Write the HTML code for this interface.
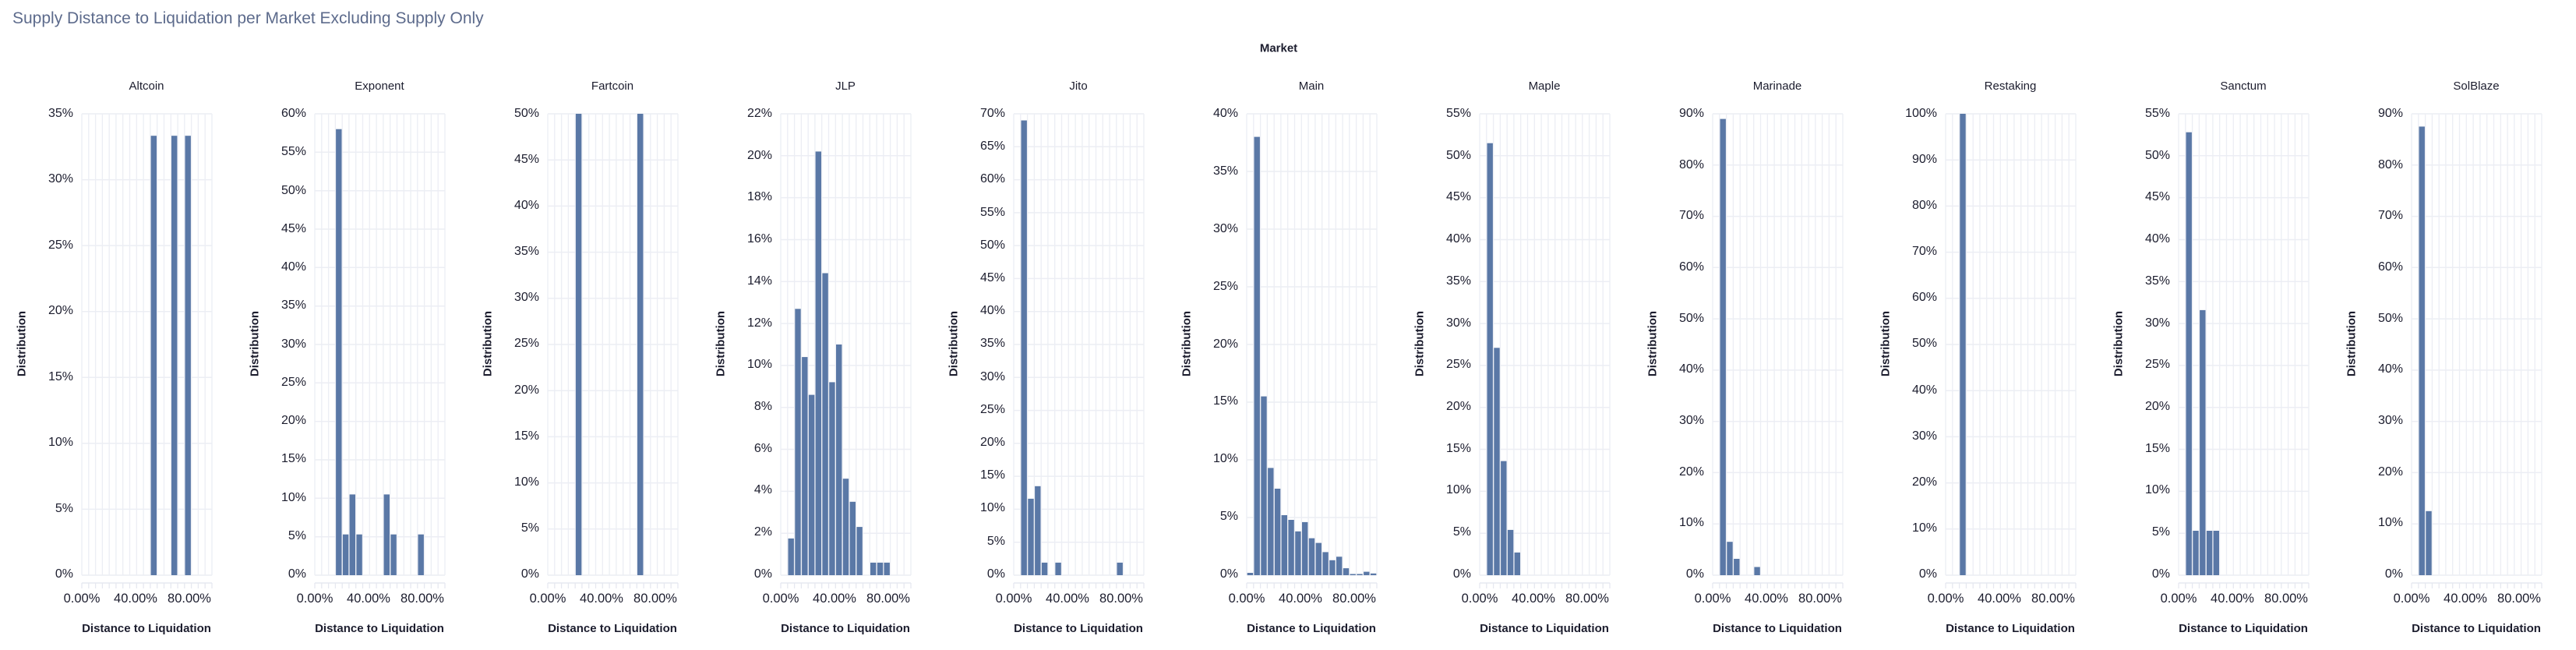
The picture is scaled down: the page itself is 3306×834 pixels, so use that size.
<!DOCTYPE html>
<html><head><meta charset="utf-8"><style>
body{margin:0;width:3306px;height:834px;background:#fff;position:relative;overflow:hidden;font-family:"Liberation Sans",sans-serif;color:#1c1d2e}
.title{position:absolute;left:16px;top:12px;font-size:21px;color:#5d6b8c;white-space:nowrap}
.mk{position:absolute;left:1641px;top:62px;transform:translate(-50%,-50%);font-weight:bold;font-size:15px}
.p{position:absolute;top:0;width:299px;height:834px}
.t{position:absolute;left:105px;width:166px;top:102px;text-align:center;font-size:15px;line-height:18px}
.yl{position:absolute;right:205px;top:137px;height:609px;display:flex;flex-direction:column;justify-content:space-between;text-align:right;font-size:16px;line-height:18px}
.yt{position:absolute;left:28px;top:441px;transform:translate(-50%,-50%) rotate(-90deg);font-weight:bold;font-size:15px;white-space:nowrap}
svg.pl{position:absolute;left:0;top:0}
.xt span{position:absolute;top:758px;transform:translateX(-50%);font-size:16.5px;line-height:20px;white-space:nowrap}
.xl{position:absolute;left:105px;width:166px;top:798px;text-align:center;font-weight:bold;font-size:15px;white-space:nowrap;line-height:18px}
</style></head><body>
<div class="title">Supply Distance to Liquidation per Market Excluding Supply Only</div>
<div class="mk">Market</div>

<div class="p" style="left:0px"><div class="t">Altcoin</div><div class="yl"><span>35%</span><span>30%</span><span>25%</span><span>20%</span><span>15%</span><span>10%</span><span>5%</span><span>0%</span></div><div class="yt">Distribution</div><svg class="pl" width="299" height="834"></svg><div class="xt"><span style="left:105px">0.00%</span><span style="left:174px">40.00%</span><span style="left:243px">80.00%</span></div><div class="xl">Distance to Liquidation</div></div>

<div class="p" style="left:299px"><div class="t">Exponent</div><div class="yl"><span>60%</span><span>55%</span><span>50%</span><span>45%</span><span>40%</span><span>35%</span><span>30%</span><span>25%</span><span>20%</span><span>15%</span><span>10%</span><span>5%</span><span>0%</span></div><div class="yt">Distribution</div><svg class="pl" width="299" height="834"></svg><div class="xt"><span style="left:105px">0.00%</span><span style="left:174px">40.00%</span><span style="left:243px">80.00%</span></div><div class="xl">Distance to Liquidation</div></div>

<div class="p" style="left:598px"><div class="t">Fartcoin</div><div class="yl"><span>50%</span><span>45%</span><span>40%</span><span>35%</span><span>30%</span><span>25%</span><span>20%</span><span>15%</span><span>10%</span><span>5%</span><span>0%</span></div><div class="yt">Distribution</div><svg class="pl" width="299" height="834"></svg><div class="xt"><span style="left:105px">0.00%</span><span style="left:174px">40.00%</span><span style="left:243px">80.00%</span></div><div class="xl">Distance to Liquidation</div></div>

<div class="p" style="left:897px"><div class="t">JLP</div><div class="yl"><span>22%</span><span>20%</span><span>18%</span><span>16%</span><span>14%</span><span>12%</span><span>10%</span><span>8%</span><span>6%</span><span>4%</span><span>2%</span><span>0%</span></div><div class="yt">Distribution</div><svg class="pl" width="299" height="834"></svg><div class="xt"><span style="left:105px">0.00%</span><span style="left:174px">40.00%</span><span style="left:243px">80.00%</span></div><div class="xl">Distance to Liquidation</div></div>

<div class="p" style="left:1196px"><div class="t">Jito</div><div class="yl"><span>70%</span><span>65%</span><span>60%</span><span>55%</span><span>50%</span><span>45%</span><span>40%</span><span>35%</span><span>30%</span><span>25%</span><span>20%</span><span>15%</span><span>10%</span><span>5%</span><span>0%</span></div><div class="yt">Distribution</div><svg class="pl" width="299" height="834"></svg><div class="xt"><span style="left:105px">0.00%</span><span style="left:174px">40.00%</span><span style="left:243px">80.00%</span></div><div class="xl">Distance to Liquidation</div></div>

<div class="p" style="left:1495px"><div class="t">Main</div><div class="yl"><span>40%</span><span>35%</span><span>30%</span><span>25%</span><span>20%</span><span>15%</span><span>10%</span><span>5%</span><span>0%</span></div><div class="yt">Distribution</div><svg class="pl" width="299" height="834"></svg><div class="xt"><span style="left:105px">0.00%</span><span style="left:174px">40.00%</span><span style="left:243px">80.00%</span></div><div class="xl">Distance to Liquidation</div></div>

<div class="p" style="left:1794px"><div class="t">Maple</div><div class="yl"><span>55%</span><span>50%</span><span>45%</span><span>40%</span><span>35%</span><span>30%</span><span>25%</span><span>20%</span><span>15%</span><span>10%</span><span>5%</span><span>0%</span></div><div class="yt">Distribution</div><svg class="pl" width="299" height="834"></svg><div class="xt"><span style="left:105px">0.00%</span><span style="left:174px">40.00%</span><span style="left:243px">80.00%</span></div><div class="xl">Distance to Liquidation</div></div>

<div class="p" style="left:2093px"><div class="t">Marinade</div><div class="yl"><span>90%</span><span>80%</span><span>70%</span><span>60%</span><span>50%</span><span>40%</span><span>30%</span><span>20%</span><span>10%</span><span>0%</span></div><div class="yt">Distribution</div><svg class="pl" width="299" height="834"></svg><div class="xt"><span style="left:105px">0.00%</span><span style="left:174px">40.00%</span><span style="left:243px">80.00%</span></div><div class="xl">Distance to Liquidation</div></div>

<div class="p" style="left:2392px"><div class="t">Restaking</div><div class="yl"><span>100%</span><span>90%</span><span>80%</span><span>70%</span><span>60%</span><span>50%</span><span>40%</span><span>30%</span><span>20%</span><span>10%</span><span>0%</span></div><div class="yt">Distribution</div><svg class="pl" width="299" height="834"></svg><div class="xt"><span style="left:105px">0.00%</span><span style="left:174px">40.00%</span><span style="left:243px">80.00%</span></div><div class="xl">Distance to Liquidation</div></div>

<div class="p" style="left:2691px"><div class="t">Sanctum</div><div class="yl"><span>55%</span><span>50%</span><span>45%</span><span>40%</span><span>35%</span><span>30%</span><span>25%</span><span>20%</span><span>15%</span><span>10%</span><span>5%</span><span>0%</span></div><div class="yt">Distribution</div><svg class="pl" width="299" height="834"></svg><div class="xt"><span style="left:105px">0.00%</span><span style="left:174px">40.00%</span><span style="left:243px">80.00%</span></div><div class="xl">Distance to Liquidation</div></div>

<div class="p" style="left:2990px"><div class="t">SolBlaze</div><div class="yl"><span>90%</span><span>80%</span><span>70%</span><span>60%</span><span>50%</span><span>40%</span><span>30%</span><span>20%</span><span>10%</span><span>0%</span></div><div class="yt">Distribution</div><svg class="pl" width="299" height="834"></svg><div class="xt"><span style="left:105px">0.00%</span><span style="left:174px">40.00%</span><span style="left:243px">80.00%</span></div><div class="xl">Distance to Liquidation</div></div>

<script>
var D=[
[35,5,{10:33.33,13:33.33,15:33.33}],
[60,5,{3:58,4:5.3,5:10.5,6:5.3,10:10.5,11:5.3,15:5.3}],
[50,5,{4:50,13:50}],
[22,2,{1:1.75,2:12.7,3:10.4,4:8.6,5:20.2,6:14.4,7:9.2,8:11,9:4.6,10:3.5,11:2.3,13:0.6,14:0.6,15:0.6}],
[70,5,{1:69,2:11.6,3:13.5,4:1.9,6:1.9,15:1.9}],
[40,5,{0:0.2,1:38,2:15.5,3:9.3,4:7.5,5:5.2,6:4.8,7:3.8,8:4.6,9:3.2,10:2.8,11:2.0,12:1.3,13:1.6,14:0.6,15:0.1,16:0.1,17:0.3,18:0.15}],
[55,5,{1:51.5,2:27.1,3:13.6,4:5.4,5:2.7}],
[90,10,{1:89,2:6.5,3:3.2,6:1.6}],
[100,10,{2:100}],
[55,5,{1:52.8,2:5.3,3:31.6,4:5.3,5:5.3}],
[90,10,{1:87.5,2:12.5}]
];
var svgs=document.querySelectorAll('svg.pl');
var L=105,W=167,T=146,B=738,H=B-T,N=19,cw=W/N;
for(var i=0;i<svgs.length;i++){
 var d=D[i],s='';
 for(var c=0;c<=N;c++){var x=(L+c*cw).toFixed(1);
  s+='<line x1="'+x+'" y1="'+T+'" x2="'+x+'" y2="'+B+'" stroke="#eceef4" stroke-width="1.3"/>';
  s+='<line x1="'+x+'" y1="748" x2="'+x+'" y2="755" stroke="#e6e8f0" stroke-width="1.3"/>';}
 for(var v=0;v<=d[0]+1e-9;v+=d[1]){var y=(B-v/d[0]*H).toFixed(1);
  s+='<line x1="'+L+'" y1="'+y+'" x2="'+(L+W)+'" y2="'+y+'" stroke="#eceef4" stroke-width="1.5"/>';}
 s+='<line x1="'+L+'" y1="748" x2="'+(L+W)+'" y2="748" stroke="#e6e8f0" stroke-width="1.5"/>';
 for(var k in d[2]){var v=d[2][k],h=v/d[0]*H,x=L+k*cw+0.7;
  s+='<rect x="'+x.toFixed(1)+'" y="'+(B-h).toFixed(1)+'" width="'+(cw-1.4).toFixed(1)+'" height="'+h.toFixed(1)+'" fill="#5a78a6"/>';}
 svgs[i].innerHTML=s;
}
</script>
</body></html>
